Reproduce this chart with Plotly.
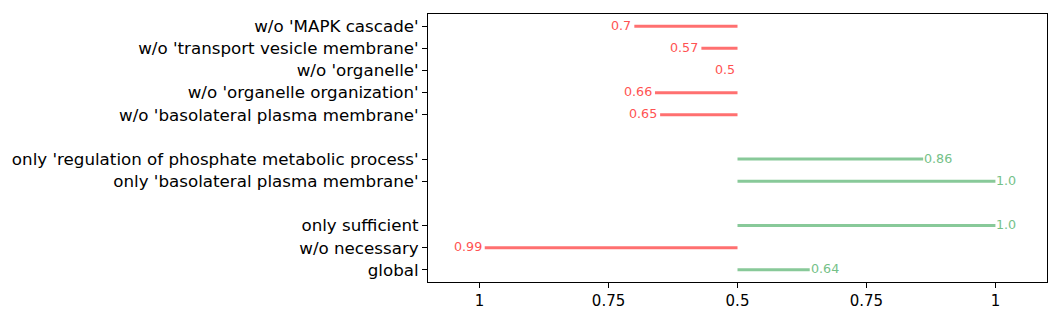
import plotly.graph_objects as go

# Rows from bottom to top, with blank separators (None)
labels = ["global", "w/o necessary", "only sufficient", None,
          "only 'basolateral plasma membrane'",
          "only 'regulation of phosphate metabolic process'", None,
          "w/o 'basolateral plasma membrane'",
          "w/o 'organelle organization'",
          "w/o 'organelle'",
          "w/o 'transport vesicle membrane'",
          "w/o 'MAPK cascade'"]
values = [0.64, 0.99, 1.0, None, 1.0, 0.86, None, 0.65, 0.66, 0.5, 0.57, 0.7]
sides = ["pos", "neg", "pos", None, "pos", "pos", None, "neg", "neg", "neg", "neg", "neg"]

tick_vals_x = [0, 0.25, 0.5, 0.75, 1.0]
tick_text_x = ["1", "0.75", "0.5", "0.75", "1"]

RED_LINE = "#ff7070"
RED_TEXT = "#ff5252"
GREEN_LINE = "#88c999"
GREEN_TEXT = "#74c187"

fig = go.Figure()
annotations = []
ytick_vals, ytick_text = [], []
for i, (lab, v, s) in enumerate(zip(labels, values, sides)):
    if lab is None:
        continue
    ytick_vals.append(i)
    ytick_text.append(lab)
    u = v if s == "pos" else 1 - v
    col = GREEN_LINE if s == "pos" else RED_LINE
    tcol = GREEN_TEXT if s == "pos" else RED_TEXT
    fig.add_trace(go.Scatter(x=[0.5, u], y=[i, i], mode="lines",
                             line=dict(color=col, width=3), showlegend=False,
                             hoverinfo="skip"))
    annotations.append(dict(x=u, y=i, xref="x", yref="y", text=str(v),
                            showarrow=False,
                            xanchor="left" if s == "pos" else "right",
                            yanchor="middle",
                            xshift=-1 if s == "pos" else -1, yshift=1,
                            font=dict(color=tcol, size=12.7,
                                      family="DejaVu Sans")))

fig.update_layout(
    width=1060, height=317,
    margin=dict(l=428, r=13, t=14, b=35, autoexpand=False),
    paper_bgcolor="white", plot_bgcolor="white",
    font=dict(family="DejaVu Sans", color="black"),
    annotations=annotations,
)
fig.update_xaxes(range=[-0.1, 1.1], tickvals=tick_vals_x, ticktext=tick_text_x,
                 showgrid=False, zeroline=False, showline=True, linecolor="black",
                 linewidth=1, mirror=True, ticks="outside", ticklen=5,
                 tickcolor="black", tickfont=dict(size=15), automargin=False)
fig.update_yaxes(range=[-0.55, 11.55], tickvals=ytick_vals, ticktext=ytick_text,
                 showgrid=False, zeroline=False, showline=True, linecolor="black",
                 linewidth=1, mirror=True, ticks="outside", ticklen=5,
                 tickcolor="black", tickfont=dict(size=16.7), automargin=False)

fig.write_html("out.html", config={"displayModeBar": False},
               post_script="document.body.style.margin='0';document.body.style.overflow='hidden';")
